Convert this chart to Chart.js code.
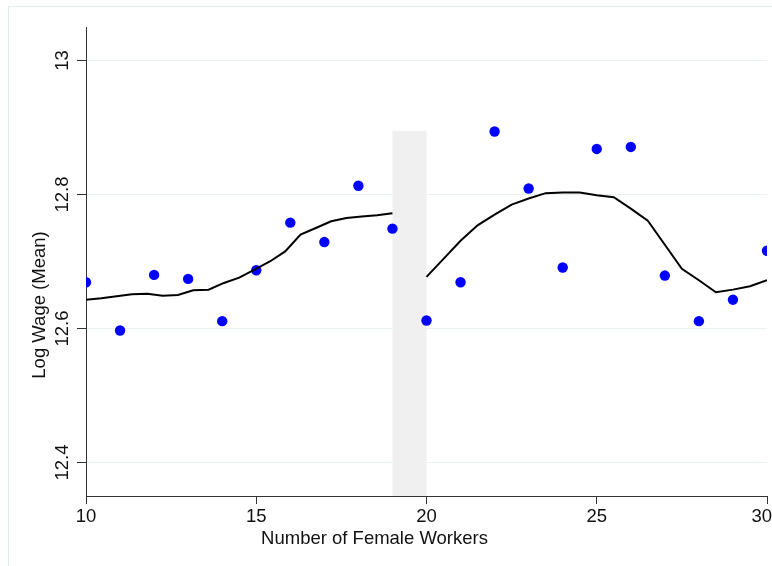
<!DOCTYPE html>
<html>
<head>
<meta charset="utf-8">
<script src="https://cdn.jsdelivr.net/npm/chart.js@4.4.1/dist/chart.umd.min.js"></script>
<style>
  html, body { margin: 0; padding: 0; background: #ffffff; }
  #wrap { width: 772px; height: 566px; position: relative; }
</style>
</head>
<body>
<div id="wrap"><canvas id="c" width="772" height="566"></canvas></div>
<script>
// ---- data ----
const femaleWorkers = [10, 11, 12, 13, 14, 15, 16, 17, 18, 19, 20, 21, 22, 23, 24, 25, 26, 27, 28, 29, 30];
const meanLogWage   = [12.669, 12.597, 12.680, 12.674, 12.611, 12.687, 12.758, 12.729, 12.813, 12.749,
                       12.612, 12.669, 12.894, 12.809, 12.691, 12.868, 12.871, 12.679, 12.611, 12.643, 12.716];

const fitLeftX  = [10, 10.45, 10.9, 11.35, 11.8, 12.25, 12.7, 13.15, 13.6, 14.05, 14.5, 14.95, 15.4, 15.85, 16.3, 16.75, 17.2, 17.65, 18.1, 18.55, 19];
const fitLeftY  = [12.643, 12.645, 12.648, 12.651, 12.652, 12.649, 12.650, 12.657, 12.658, 12.668, 12.676, 12.688, 12.700, 12.715, 12.740, 12.750, 12.760, 12.765, 12.767, 12.769, 12.772];
const fitRightX = [20, 20.5, 21, 21.5, 22, 22.5, 23, 23.5, 24, 24.5, 25, 25.5, 26, 26.5, 27, 27.5, 28, 28.5, 29, 29.5, 30];
const fitRightY = [12.677, 12.704, 12.731, 12.754, 12.770, 12.785, 12.794, 12.802, 12.803, 12.803, 12.799, 12.796, 12.779, 12.761, 12.725, 12.689, 12.672, 12.654, 12.658, 12.663, 12.672];

const bandRange = [19, 20];
const bandTop   = 12.895;

const xTicks = [10, 15, 20, 25, 30];
const yTicks = [12.4, 12.6, 12.8, 13];
const yTickLabels = ['12.4', '12.6', '12.8', '13'];
const xTitle = 'Number of Female Workers';
const yTitle = 'Log Wage (Mean)';

// ---- helpers ----
const zip = (xs, ys) => xs.map((x, i) => ({ x: x, y: ys[i] }));
const FONT = '18.5px "Liberation Sans", Arial, sans-serif';
const TXT = '#111111';

const framePlugin = {
  id: 'frame',
  beforeDraw(chart) {
    const ctx = chart.ctx;
    ctx.save();
    ctx.fillStyle = '#ffffff';
    ctx.fillRect(0, 0, chart.width, chart.height);
    ctx.strokeStyle = '#e3ebee';
    ctx.lineWidth = 1;
    ctx.strokeRect(8.5, 6.5, chart.width + 20, chart.height + 20);
    ctx.restore();
  }
};

const bandPlugin = {
  id: 'band',
  beforeDatasetsDraw(chart) {
    const xs = chart.scales.x, ys = chart.scales.y, ctx = chart.ctx;
    const x0 = xs.getPixelForValue(bandRange[0]);
    const x1 = xs.getPixelForValue(bandRange[1]);
    const yT = ys.getPixelForValue(bandTop);
    const yB = chart.chartArea.bottom;
    ctx.save();
    ctx.fillStyle = '#f0f0f0';
    ctx.fillRect(x0, yT, x1 - x0, yB - yT);
    ctx.restore();
  }
};

const textPlugin = {
  id: 'texts',
  afterDraw(chart) {
    const xs = chart.scales.x, ys = chart.scales.y, ctx = chart.ctx;
    ctx.save();
    ctx.fillStyle = TXT;
    ctx.font = FONT;
    // y tick labels (rotated)
    yTicks.forEach((v, i) => {
      const py = ys.getPixelForValue(v);
      ctx.save();
      ctx.translate(68, py);
      ctx.rotate(-Math.PI / 2);
      ctx.textAlign = 'center';
      ctx.textBaseline = 'alphabetic';
      ctx.fillText(yTickLabels[i], 0, 0);
      ctx.restore();
    });
    // x tick labels (kept inside the canvas)
    ctx.textAlign = 'center';
    ctx.textBaseline = 'alphabetic';
    xTicks.forEach(v => {
      const label = String(v);
      const half = ctx.measureText(label).width / 2;
      const px = Math.min(xs.getPixelForValue(v), chart.width - half);
      ctx.fillText(label, px, 522);
    });
    // x title
    ctx.fillText(xTitle, 374.5, 544);
    // y title
    ctx.save();
    ctx.translate(44.5, 305);
    ctx.rotate(-Math.PI / 2);
    ctx.textAlign = 'center';
    ctx.fillText(yTitle, 0, 0);
    ctx.restore();
    ctx.restore();
  }
};

new Chart(document.getElementById('c'), {
  type: 'scatter',
  data: {
    datasets: [
      {
        label: 'Mean log wage',
        data: zip(femaleWorkers, meanLogWage),
        backgroundColor: '#0000ff',
        borderColor: '#0000ff',
        borderWidth: 0,
        pointRadius: 5.2,
        pointHoverRadius: 5.2,
        showLine: false,
        order: 2
      },
      {
        type: 'line',
        label: 'Fit (left)',
        data: zip(fitLeftX, fitLeftY),
        borderColor: '#000000',
        borderWidth: 2,
        pointRadius: 0,
        tension: 0,
        fill: false,
        order: 1
      },
      {
        type: 'line',
        label: 'Fit (right)',
        data: zip(fitRightX, fitRightY),
        borderColor: '#000000',
        borderWidth: 2,
        pointRadius: 0,
        tension: 0,
        fill: false,
        order: 1
      }
    ]
  },
  options: {
    responsive: false,
    animation: false,
    devicePixelRatio: 1,
    layout: { autoPadding: false, padding: { top: 27, right: 5, left: 0, bottom: 0 } },
    plugins: {
      legend: { display: false },
      tooltip: { enabled: false },
      title: { display: false }
    },
    events: [],
    scales: {
      x: {
        type: 'linear',
        min: 10,
        max: 30,
        afterBuildTicks: s => { s.ticks = xTicks.map(v => ({ value: v })); },
        afterFit: s => { s.height = 70; },
        ticks: { display: false },
        grid: { drawOnChartArea: false, drawTicks: true, tickLength: 8, tickColor: '#333333', tickWidth: 1 },
        border: { display: true, color: '#333333', width: 1 }
      },
      y: {
        type: 'linear',
        min: 12.35,
        max: 13.05,
        afterBuildTicks: s => { s.ticks = yTicks.map(v => ({ value: v })); },
        afterFit: s => { s.width = 86; },
        ticks: { display: false },
        grid: { drawOnChartArea: true, color: '#eaf1f3', lineWidth: 1, drawTicks: true, tickLength: 9, tickColor: '#333333', tickWidth: 1 },
        border: { display: true, color: '#333333', width: 1 }
      }
    }
  },
  plugins: [framePlugin, bandPlugin, textPlugin]
});
</script>
</body>
</html>
